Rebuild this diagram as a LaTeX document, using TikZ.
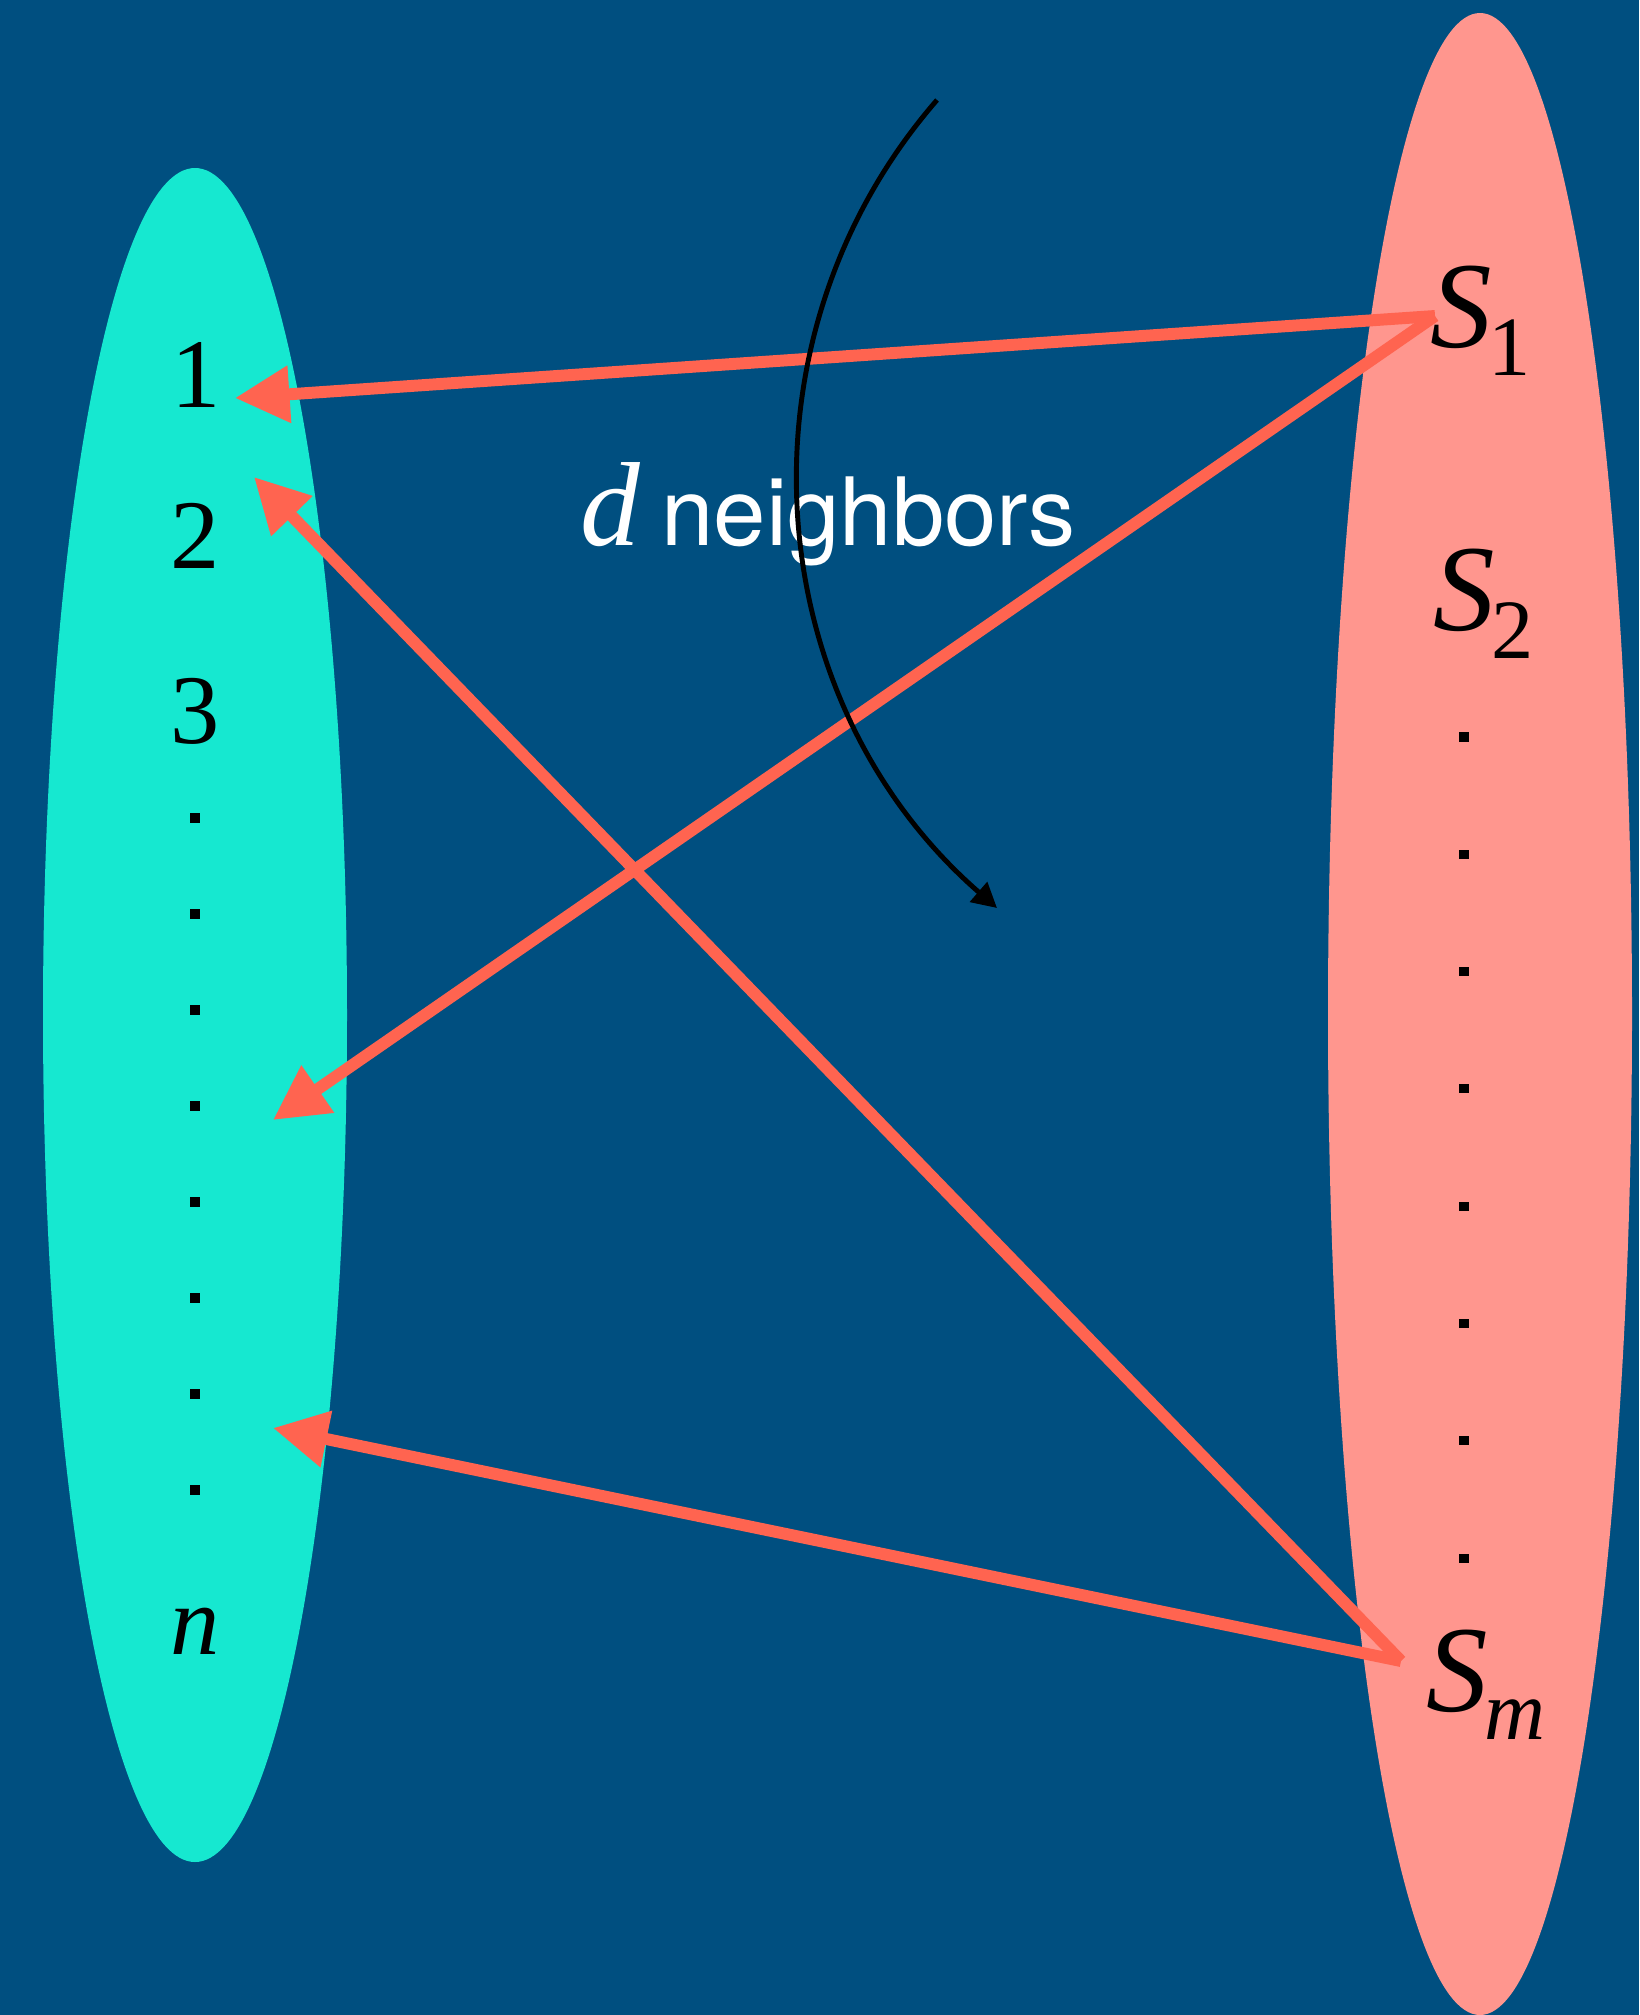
\documentclass[tikz,border=0pt]{standalone}
\usepackage{fontspec}
\setmainfont{Liberation Serif}
\newfontfamily\heros{TeX Gyre Heros}
\usetikzlibrary{arrows.meta}
\definecolor{navy}{RGB}{0,79,128}
\definecolor{aqua}{RGB}{22,232,208}
\definecolor{salmon}{RGB}{255,150,142}
\definecolor{coral}{RGB}{255,100,80}
\newcommand\subs[1]{\raisebox{-8pt}{\fontsize{24}{24}\selectfont #1}}
\tikzset{
  link/.style={draw=coral,line width=3.4pt,-{Triangle[length=15.5pt,width=15.5pt]}},
  arcarrow/.style={draw=black,line width=1.4pt,-{Triangle[length=7pt,width=7.3pt]}},
  elem/.style={font=\fontsize{28}{28}\selectfont,inner sep=0pt,anchor=base},
  setlabel/.style={font=\fontsize{35}{35}\selectfont\itshape,inner sep=0pt,anchor=base west},
  dotbox/.style={fill=black,inner sep=0pt,minimum size=2.6pt}
}
\begin{document}
\begin{tikzpicture}[x=0.01cm,y=0.01cm]%
% units: one reference pixel, y measured downward as negative
\fill[navy] (0,0) rectangle (1639,-2015);
\useasboundingbox (0,0) rectangle (1639,-2015);
\fill[aqua] (195,-1015) ellipse [x radius=152,y radius=847];
\fill[salmon] (1480,-1014) ellipse [x radius=152,y radius=1001];
\node[elem] (e1) at (196,-407) {1};
\node[elem] (e2) at (195,-568) {2};
\node[elem] (e3) at (195,-743) {3};
\node[elem] (en) at (195,-1654) {\itshape n};
\foreach \k in {0,...,7}
  \node[dotbox] (ld\k) at (195,-818-96*\k) {};
\node[setlabel] (sa) at (1430,-347) {S\kern-1pt\subs{\upshape 1}};
\node[setlabel] (sb) at (1433,-630) {S\kern-1pt\subs{\upshape 2}};
\node[setlabel] (sm) at (1426,-1711) {S\kern-1pt\subs{m}};
\foreach \k in {0,...,7}
  \node[dotbox] (rd\k) at (1464,-737-117.3*\k) {};
\node[anchor=base west,inner sep=0pt,text=white] (lab) at (580,-545)
  {\fontsize{34}{34}\selectfont\itshape d\hspace{6pt}\upshape\heros\fontsize{26.8}{30}\selectfont neighbors};
\coordinate (fa) at (1435,-316);
\coordinate (fm) at (1401,-1661);
\coordinate (ta) at (235,-398);
\coordinate (tb) at (254,-477);
\coordinate (tc) at (273,-1120);
\coordinate (td) at (273,-1428);
\draw[link] (fa) -- (ta);
\draw[link] (fm) -- (tb);
\draw[link] (fa) -- (tc);
\draw[link] (fm) -- (td);
\coordinate (ca) at (937,-100);
\coordinate (cb) at (997,-908);
\draw[arcarrow] (ca) to[out=229,in=139] (cb);
\end{tikzpicture}
\end{document}
